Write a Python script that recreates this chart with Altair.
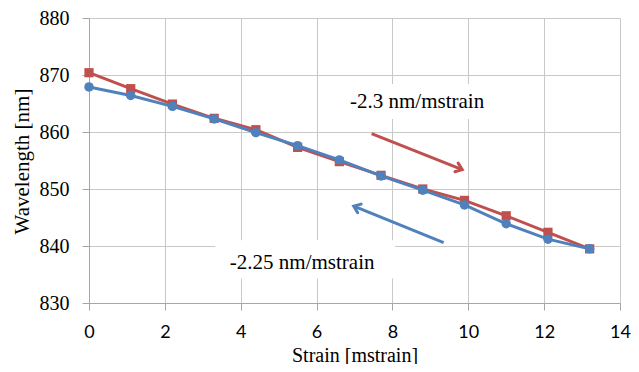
import altair as alt
import pandas as pd

strain = [0, 1.1, 2.2, 3.3, 4.4, 5.5, 6.6, 7.7, 8.8, 9.9, 11.0, 12.1, 13.2]
red_wl = [870.4, 867.6, 864.9, 862.4, 860.4, 857.3, 854.8, 852.4, 850.0, 848.0, 845.3, 842.4, 839.5]
blue_wl = [867.9, 866.4, 864.5, 862.3, 859.9, 857.6, 855.1, 852.3, 849.8, 847.2, 843.9, 841.2, 839.5]

x_ticks = [0, 2, 4, 6, 8, 10, 12, 14]
y_ticks = [830, 840, 850, 860, 870, 880]

# annotations (data coordinates)
labels = ["-2.3 nm/mstrain", "-2.25 nm/mstrain"]
label_x = [8.65, 5.62]
label_y = [865.3, 837.0]
box_x = [6.54, 3.33]
box_x2 = [10.76, 8.07]
box_y = [868.4, 841.0]
box_y2 = [862.3, 834.3]
arrow_x = [7.45, 9.35]
arrow_y = [859.7, 840.6]
arrow_x2 = [9.84, 6.98]
arrow_y2 = [853.4, 847.0]
arrow_angle = [21, 202]
arrow_color = ["#C0504D", "#4F81BD"]

RED = "#C0504D"
BLUE = "#4F81BD"
SERIF = "Liberation Serif"
SANS = "Lato"

df = pd.DataFrame({"strain": strain, "red": red_wl, "blue": blue_wl})
ann = pd.DataFrame({
    "label": labels, "lx": label_x, "ly": label_y,
    "bx": box_x, "bx2": box_x2, "by": box_y, "by2": box_y2,
})
arr = pd.DataFrame({
    "ax": arrow_x, "ay": arrow_y, "ax2": arrow_x2, "ay2": arrow_y2,
    "angle": arrow_angle, "color": arrow_color,
})

xscale = alt.Scale(domain=[0, 14], nice=False)
yscale = alt.Scale(domain=[830, 880], nice=False, zero=False)

xaxis = alt.Axis(values=x_ticks, title="Strain [mstrain]", labelFont=SANS, labelFontSize=18,
                 labelColor="#000", tickSize=7, labelPadding=13, gridColor="#C8C8C8",
                 domainColor="#A6A6A6", tickColor="#A6A6A6", titleFont=SERIF, titleFontSize=20,
                 titleFontWeight="normal", titleColor="#000", titleBaseline="alphabetic",
                 titleY=58, labelFlush=False)
yaxis = alt.Axis(values=y_ticks, title="Wavelength [nm]", labelFont=SERIF, labelFontSize=20,
                 labelColor="#000", tickSize=7, labelPadding=13, gridColor="#C8C8C8",
                 domainColor="#A6A6A6", tickColor="#A6A6A6", titleFont=SERIF, titleFontSize=21,
                 titleFontWeight="normal", titleColor="#000", titleX=-67, titleY=143,
                 titleAngle=270, titleBaseline="middle", titleAlign="center", labelFlush=False)

base = alt.Chart(df)

boxes = alt.Chart(ann).mark_rect(color="white").encode(
    x=alt.X("bx:Q", scale=xscale, axis=xaxis),
    x2="bx2:Q",
    y=alt.Y("by:Q", scale=yscale, axis=yaxis),
    y2="by2:Q",
)
texts = alt.Chart(ann).mark_text(font=SERIF, fontSize=21, color="#000").encode(
    x=alt.X("lx:Q", scale=xscale), y=alt.Y("ly:Q", scale=yscale), text="label:N"
)

red_line = base.mark_line(color=RED, strokeWidth=3).encode(
    x=alt.X("strain:Q", scale=xscale), y=alt.Y("red:Q", scale=yscale))
red_pts = base.mark_point(shape="square", filled=True, size=85, color=RED, opacity=1).encode(
    x=alt.X("strain:Q", scale=xscale), y=alt.Y("red:Q", scale=yscale))
blue_line = base.mark_line(color=BLUE, strokeWidth=3).encode(
    x=alt.X("strain:Q", scale=xscale), y=alt.Y("blue:Q", scale=yscale))
blue_pts = base.mark_point(shape="circle", filled=True, size=90, color=BLUE, opacity=1).encode(
    x=alt.X("strain:Q", scale=xscale), y=alt.Y("blue:Q", scale=yscale))

shafts = alt.Chart(arr).mark_rule(strokeWidth=3).encode(
    x=alt.X("ax:Q", scale=xscale), y=alt.Y("ay:Q", scale=yscale),
    x2="ax2:Q", y2="ay2:Q",
    color=alt.Color("color:N", scale=None),
)
heads = alt.Chart(arr).mark_point(
    shape="M-1,-0.75L0,0L-1,0.75", filled=False, size=150, strokeWidth=3, opacity=1,
    strokeCap="round", strokeJoin="miter",
).encode(
    x=alt.X("ax2:Q", scale=xscale), y=alt.Y("ay2:Q", scale=yscale),
    angle=alt.Angle("angle:Q", scale=None),
    stroke=alt.Color("color:N", scale=None),
)

chart = alt.layer(boxes, texts, shafts, heads, red_line, red_pts, blue_line, blue_pts).properties(
    width=531, height=285,
    autosize=alt.AutoSizeParams(type="none"),
    padding={"left": 81, "top": 10, "right": 11, "bottom": 61},
    background="white",
).configure_view(stroke=None)

chart.save("out.html", embed_options={"renderer": "svg", "actions": False})
